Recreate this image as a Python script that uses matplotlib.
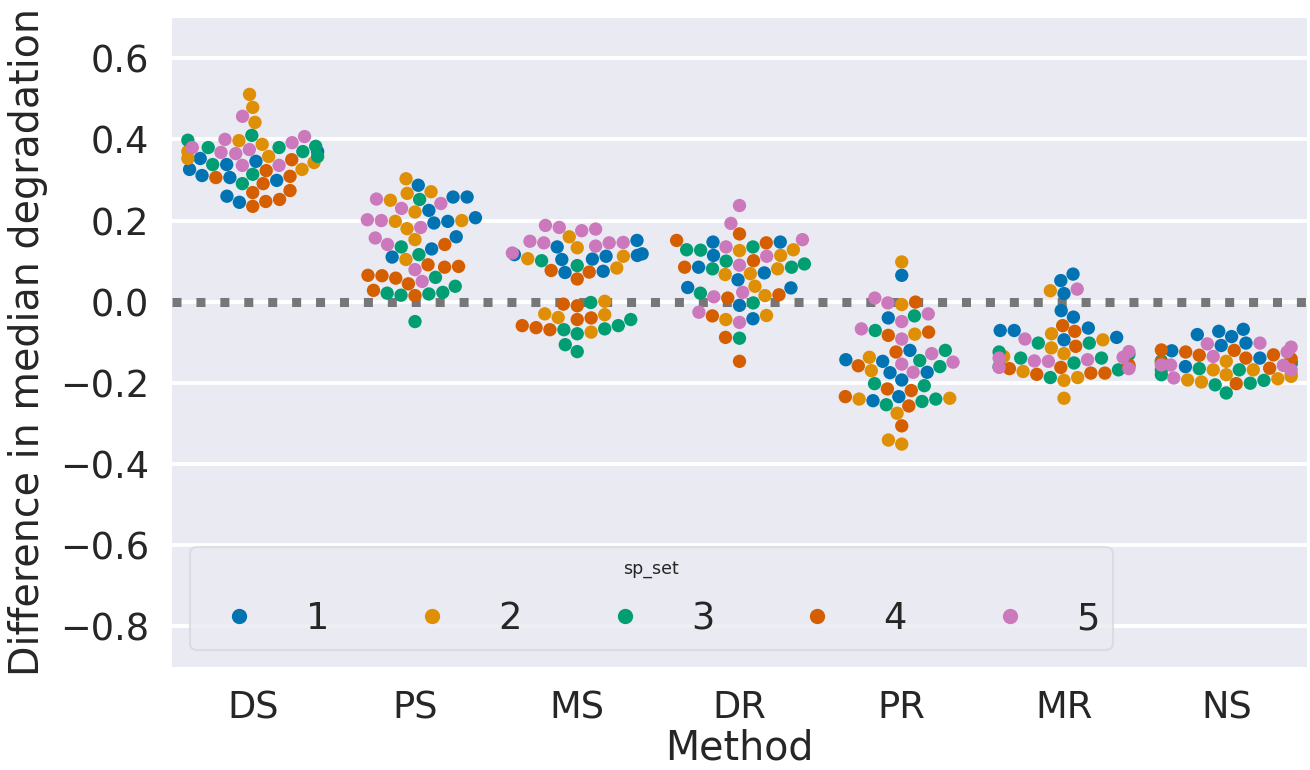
import matplotlib
matplotlib.use("Agg")
import matplotlib.pyplot as plt
import seaborn as sns
import pandas as pd

methods = ["DS", "PS", "MS", "DR", "PR", "MR", "NS"]
sp_sets = [1, 2, 3, 4, 5]

DS = [
    [0.346, 0.326, 0.353, 0.311, 0.338, 0.306, 0.26, 0.245, 0.299, 0.37],
    [0.511, 0.479, 0.442, 0.397, 0.358, 0.353, 0.326, 0.388, 0.343, 0.37],
    [0.38, 0.398, 0.37, 0.383, 0.338, 0.314, 0.291, 0.38, 0.41, 0.358],
    [0.35, 0.323, 0.306, 0.291, 0.269, 0.309, 0.274, 0.235, 0.247, 0.252],
    [0.457, 0.407, 0.392, 0.38, 0.368, 0.365, 0.336, 0.336, 0.4, 0.375],
]
PS = [
    [0.287, 0.258, 0.258, 0.225, 0.207, 0.198, 0.194, 0.16, 0.13, 0.11],
    [0.303, 0.271, 0.267, 0.25, 0.221, 0.198, 0.2, 0.18, 0.153, 0.104],
    [0.252, 0.135, 0.116, 0.06, 0.038, 0.021, 0.016, 0.019, 0.023, -0.049],
    [0.141, 0.091, 0.085, 0.087, 0.065, 0.064, 0.058, 0.044, 0.028, 0.015],
    [0.242, 0.253, 0.23, 0.2, 0.183, 0.202, 0.157, 0.141, 0.079, 0.05],
]
MS = [
    [0.151, 0.116, 0.114, 0.104, 0.135, 0.105, 0.112, 0.118, 0.072, 0.075],
    [0.16, 0.133, 0.112, 0.106, 0.083, 0.001, -0.03, -0.039, -0.032, -0.075],
    [0.089, 0.101, -0.002, -0.044, -0.069, -0.079, -0.067, -0.059, -0.106, -0.123],
    [0.077, 0.073, 0.056, -0.006, -0.01, -0.04, -0.059, -0.064, -0.069, -0.044],
    [0.183, 0.175, 0.179, 0.188, 0.145, 0.137, 0.149, 0.145, 0.146, 0.12],
]
DR = [
    [0.147, 0.147, 0.114, 0.085, 0.054, 0.071, 0.035, -0.009, 0.034, -0.042],
    [0.126, 0.114, 0.128, 0.081, 0.069, 0.067, 0.038, 0.015, -0.034, -0.044],
    [0.128, 0.127, 0.1, 0.081, 0.085, 0.093, 0.135, 0.021, -0.003, -0.09],
    [0.167, 0.145, 0.151, 0.101, 0.085, 0.009, 0.017, -0.035, -0.088, -0.147],
    [0.237, 0.193, 0.135, 0.153, 0.112, 0.09, 0.023, 0.012, -0.026, -0.051],
]
PR = [
    [0.065, -0.04, -0.147, -0.143, -0.174, -0.175, -0.193, -0.12, -0.244, -0.234],
    [0.098, -0.007, -0.08, -0.137, -0.17, -0.238, -0.24, -0.275, -0.341, -0.351],
    [-0.035, -0.071, -0.12, -0.145, -0.16, -0.202, -0.207, -0.24, -0.254, -0.246],
    [-0.001, -0.075, -0.083, -0.124, -0.158, -0.215, -0.219, -0.234, -0.257, -0.306],
    [0.009, -0.003, -0.049, -0.03, -0.067, -0.092, -0.128, -0.149, -0.154, -0.174],
]
MR = [
    [0.068, 0.052, 0.02, -0.022, -0.038, -0.065, -0.088, -0.094, -0.071, -0.071],
    [0.027, -0.079, -0.094, -0.114, -0.128, -0.172, -0.187, -0.194, -0.238, -0.135],
    [-0.102, -0.124, -0.139, -0.102, -0.151, -0.187, -0.168, -0.139, -0.16, -0.13],
    [-0.059, -0.073, -0.11, -0.156, -0.162, -0.179, -0.176, -0.176, -0.165, -0.16],
    [0.031, -0.092, -0.137, -0.143, -0.147, -0.146, -0.139, -0.123, -0.162, -0.165],
]
NS = [
    [-0.068, -0.086, -0.073, -0.081, -0.102, -0.139, -0.121, -0.108, -0.15, -0.16],
    [-0.147, -0.168, -0.179, -0.168, -0.184, -0.19, -0.198, -0.193, -0.154, -0.18],
    [-0.165, -0.194, -0.205, -0.225, -0.151, -0.168, -0.201, -0.168, -0.146, -0.18],
    [-0.139, -0.132, -0.119, -0.124, -0.141, -0.164, -0.202, -0.131, -0.15, -0.12],
    [-0.112, -0.102, -0.104, -0.124, -0.135, -0.157, -0.168, -0.156, -0.188, -0.156],
]

yticks = [-0.8, -0.6, -0.4, -0.2, 0.0, 0.2, 0.4, 0.6]

rows = []
for m, vals in zip(methods, [DS, PS, MS, DR, PR, MR, NS]):
    for s, lst in zip(sp_sets, vals):
        for v in lst:
            rows.append({"Method": m, "sp_set": s, "value": v})
df = pd.DataFrame(rows)

sns.set_theme(style="darkgrid")
plt.rcParams["font.family"] = ["DejaVu Sans"]

fig = plt.figure(figsize=(13.1, 7.7), dpi=100)
ax = fig.add_axes([0.131, 0.134, 0.867, 0.843])

sns.swarmplot(data=df, x="Method", y="value", hue="sp_set", order=methods,
              hue_order=sp_sets, palette="colorblind", size=9.6, linewidth=0,
              ax=ax, warn_thresh=1.0)

ax.axhline(0, ls=":", color="#777777", lw=6.5)
ax.set_ylim(-0.9, 0.7)
ax.set_xlim(-0.5, 6.5)
ax.set_yticks(yticks)
ax.set_yticklabels([f"{t:.1f}".replace("-", "\u2212") for t in yticks])
ax.tick_params(axis="both", labelsize=26.5, pad=10)
ax.set_xlabel("Method", fontsize=28.5, labelpad=2)
ax.set_ylabel("Difference in median degradation", fontsize=28.5, labelpad=9)
for sp in ax.spines.values():
    sp.set_visible(False)
ax.xaxis.grid(False)
ax.yaxis.grid(True, color="white", lw=2.8)

handles, labels = ax.get_legend_handles_labels()
for h in handles:
    if hasattr(h, "set_markersize"):
        h.set_markersize(11)
    elif hasattr(h, "set_sizes"):
        h.set_sizes([121])
leg = ax.legend(handles, labels, title="sp_set", ncol=5, loc="lower left",
                bbox_to_anchor=(0.016, 0.026), borderaxespad=0,
                fontsize=26.5, title_fontsize=12.5,
                frameon=True, facecolor="#EAEAF2", edgecolor="#d8d8df",
                columnspacing=1.8, handletextpad=0.8, borderpad=0.35,
                labelspacing=0.3, markerscale=1.0)
leg._legend_box.sep = 16
leg.get_frame().set_linewidth(1.5)

fig.savefig("out.png", dpi=100)
